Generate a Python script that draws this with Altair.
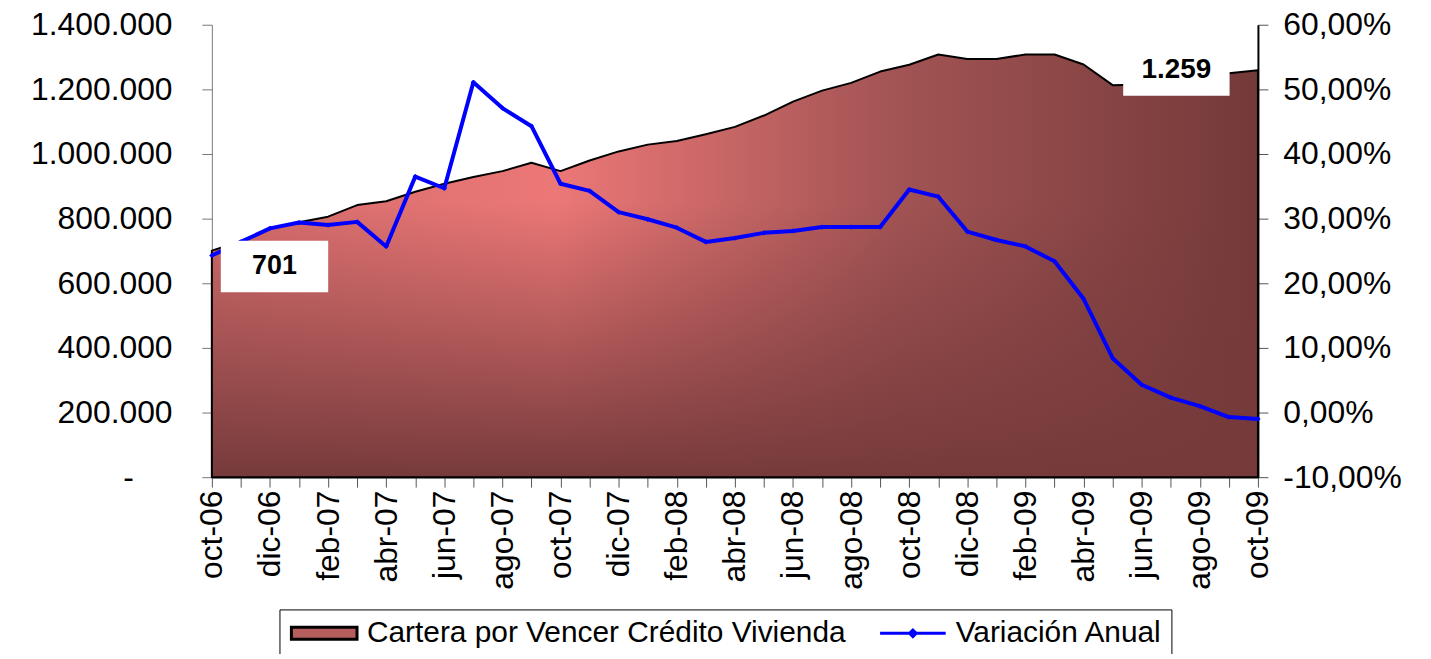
import altair as alt
import pandas as pd

meses = ['oct-06', 'nov-06', 'dic-06', 'ene-07', 'feb-07', 'mar-07', 'abr-07', 'may-07',
         'jun-07', 'jul-07', 'ago-07', 'sep-07', 'oct-07', 'nov-07', 'dic-07', 'ene-08',
         'feb-08', 'mar-08', 'abr-08', 'may-08', 'jun-08', 'jul-08', 'ago-08', 'sep-08',
         'oct-08', 'nov-08', 'dic-08', 'ene-09', 'feb-09', 'mar-09', 'abr-09', 'may-09',
         'jun-09', 'jul-09', 'ago-09', 'sep-09', 'oct-09']

cartera = [701000, 730000, 770000, 789000, 806000, 842000, 854000, 883000,
           908000, 929000, 947000, 973000, 947000, 980000, 1008000, 1029000,
           1040000, 1061000, 1084000, 1119000, 1162000, 1196000, 1220000, 1255000,
           1276000, 1308000, 1294000, 1294000, 1308000, 1308000, 1277000, 1213000,
           1215000, 1228000, 1240000, 1250000, 1259000]

variacion = [24.3, 26.4, 28.5, 29.4, 29.0, 29.5, 25.7, 36.5,
             34.7, 51.1, 47.1, 44.3, 35.4, 34.3, 31.0, 29.9,
             28.6, 26.4, 27.0, 27.8, 28.1, 28.7, 28.7, 28.7,
             34.5, 33.4, 28.0, 26.7, 25.7, 23.4, 17.6, 8.4,
             4.3, 2.3, 1.0, -0.7, -1.0]

series = ['Cartera por Vencer Crédito Vivienda', 'Variación Anual']
left_ticks = [0, 200000, 400000, 600000, 800000, 1000000, 1200000, 1400000]
right_ticks = [-10, 0, 10, 20, 30, 40, 50, 60]
shown_prefixes = ['oct', 'dic', 'feb', 'abr', 'jun', 'ago']

df = pd.DataFrame({'mes': meses, 'cartera': cartera, 'variacion': variacion})
df['etiqueta'] = [f"{v / 1000:,.0f}".replace(',', '.') for v in cartera]

FONT = 'Liberation Sans'

xscale = alt.Scale(type='point', padding=0, domain=meses)
x_axis = alt.X('mes:N', scale=xscale, title=None, axis=alt.Axis(
    labelAngle=270, labelAlign='right', labelBaseline='middle',
    labelExpr="indexof(" + str(shown_prefixes) + ", substring(datum.value, 0, 3)) >= 0 ? datum.value : ''",
    labelOverlap=False, labelFont=FONT, labelFontSize=32, labelColor='black',
    labelPadding=3, tickSize=10, tickColor='#555555', domainColor='#555555',
    domainWidth=1.5, grid=False))

lscale = alt.Scale(domain=[0, 1400000], nice=False, zero=True)
y_left = alt.Y('cartera:Q', scale=lscale, title=None, axis=alt.Axis(
    values=left_ticks,
    labelExpr="datum.value == 0 ? '-' : replace(replace(format(datum.value, ',.0f'), ',', '.'), ',', '.')",
    labelFont=FONT, labelFontSize=32, labelColor='black',
    labelPadding={'condition': {'test': 'datum.value == 0', 'value': 69}, 'value': 30},
    tickSize=10, tickColor='#777777', domainColor='#777777', grid=False))
y_left_plain = alt.Y('cartera:Q', scale=lscale, title=None, axis=None)

rscale = alt.Scale(domain=[-10, 60], nice=False, zero=False)
y_right = alt.Y('variacion:Q', scale=rscale, title=None, axis=alt.Axis(
    orient='right', values=right_ticks,
    labelExpr="replace(replace(format(datum.value, '.2f'), '.', ','), '\u2212', '-') + '%'",
    labelFont=FONT, labelFontSize=32, labelColor='black', labelPadding=15,
    tickSize=10, tickColor='#555555', domainColor='#000000', domainWidth=2, grid=False))

grad_h = alt.LinearGradient(gradient='linear', x1=0, y1=0, x2=1, y2=0, stops=[
    alt.GradientStop(offset=0, color='#D46C6C'),
    alt.GradientStop(offset=0.33, color='#EC7777'),
    alt.GradientStop(offset=0.65, color='#A35454'),
    alt.GradientStop(offset=1, color='#743939')])
grad_v = alt.LinearGradient(gradient='linear', x1=0, y1=0, x2=0, y2=1, stops=[
    alt.GradientStop(offset=0, color='rgba(118,58,59,0)'),
    alt.GradientStop(offset=0.35, color='rgba(118,58,59,0)'),
    alt.GradientStop(offset=1, color='rgba(118,58,59,1)')])

base = alt.Chart(df)

area1 = base.mark_area(fill=grad_h, opacity=1).encode(x=x_axis, y=y_left)
area2 = base.mark_area(fill=grad_v, opacity=1, stroke='black', strokeWidth=2,
                       strokeJoin='round').encode(x=x_axis, y=y_left_plain)

line = base.mark_line(color='#0000FF', strokeWidth=4, strokeJoin='round',
                      point=alt.OverlayMarkDef(shape='diamond', size=28, filled=True,
                                               color='#0000FF')).encode(x=x_axis, y=y_right)

first = base.transform_filter(alt.datum.mes == meses[0])
last = base.transform_filter(alt.datum.mes == meses[-1])

box1 = first.mark_point(shape='M-1,-0.48L1,-0.48L1,0.48L-1,0.48Z', size=108 * 108,
                        filled=True, color='white', opacity=1, xOffset=63, yOffset=16
                        ).encode(x=x_axis, y=y_left_plain)
txt1 = first.mark_text(font=FONT, fontSize=27, fontWeight='bold', color='black',
                       dx=63, dy=16, align='center', baseline='middle'
                       ).encode(x=x_axis, y=y_left_plain, text='etiqueta:N')
box2 = last.mark_point(shape='M-1,-0.44L1,-0.44L1,0.44L-1,0.44Z', size=107 * 107,
                       filled=True, color='white', opacity=1, xOffset=-82, yOffset=2
                       ).encode(x=x_axis, y=y_left_plain)
txt2 = last.mark_text(font=FONT, fontSize=28, fontWeight='bold', color='black',
                      dx=-82, dy=0, align='center', baseline='middle'
                      ).encode(x=x_axis, y=y_left_plain, text='etiqueta:N')

rect_path = 'M-5.5,-1L5.5,-1L5.5,1L-5.5,1Z'
line_path = 'M-5.5,0L5.5,0M-0.55,0L0,-0.55L0.55,0L0,0.55Z'
leg = alt.Legend(title=None, orient='none', legendX=68, legendY=588,
                 direction='horizontal', columns=2,
                 labelFont=FONT, labelFontSize=30, labelColor='black', labelLimit=700,
                 symbolSize=144, symbolStrokeWidth=3, symbolOffset=21,
                 symbolFillColor='#B65D5D',
                 labelOffset=28, columnPadding=28, padding=9,
                 strokeColor='black')
leg_df = pd.DataFrame({'serie': series})
legend_layer = alt.Chart(leg_df).mark_point(opacity=0, filled=True).encode(
    fill=alt.Fill('serie:N', scale=alt.Scale(domain=series, range=['#B65D5D', '#0000FF']), legend=leg),
    stroke=alt.Stroke('serie:N', scale=alt.Scale(domain=series, range=['#000000', '#0000FF']), legend=leg),
    shape=alt.Shape('serie:N', scale=alt.Scale(domain=series, range=[rect_path, line_path]), legend=leg),
)

chart = alt.layer(area1, area2, line, box1, txt1, box2, txt2, legend_layer).resolve_scale(
    y='independent'
).properties(
    width=1052, height=455,
    autosize=alt.AutoSizeParams(type='none'),
    padding={'left': 205, 'top': 15, 'right': 166, 'bottom': 176},
    background='white'
).configure_view(stroke='transparent')

chart.save("out.html", embed_options={"renderer": "svg", "actions": False})
